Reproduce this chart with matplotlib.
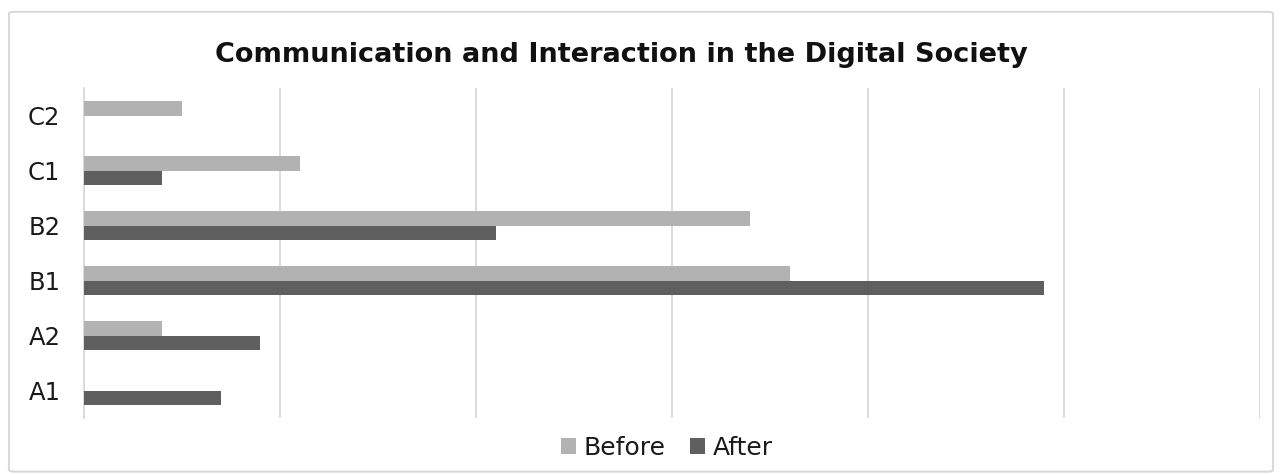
import matplotlib
matplotlib.use("Agg")
import matplotlib.pyplot as plt
import numpy as np
from matplotlib.patches import FancyBboxPatch

# Data (A1 at bottom, C2 at top)
levels = ["A1", "A2", "B1", "B2", "C1", "C2"]
before = [0, 4, 36, 34, 11, 5]
after = [7, 9, 49, 21, 4, 0]
series_names = ["Before", "After"]
x_max = 60
x_step = 10

color_before = "#b2b2b2"
color_after = "#5f5f5f"
grid_color = "#d9d9d9"

plt.rcParams['font.family'] = ['DejaVu Sans']

fig = plt.figure(figsize=(12.82, 4.74), dpi=100)
ax = fig.add_axes([0.0655, 0.1181, 0.9174, 0.6962])

y = np.arange(len(levels))
bar_h = 0.263
ax.barh(y + bar_h / 2, before, height=bar_h, color=color_before, label=series_names[0], zorder=3)
ax.barh(y - bar_h / 2, after, height=bar_h, color=color_after, label=series_names[1], zorder=3)

ax.set_xlim(0, x_max)
ax.set_ylim(-0.5, len(levels) - 0.5)
ax.set_xticks(np.arange(0, x_max + 1, x_step))
ax.set_xticklabels([])
ax.set_yticks(y)
ax.set_yticklabels(levels, fontsize=17.5, color="#1a1a1a")
ax.tick_params(axis="both", length=0)
ax.tick_params(axis="y", pad=17)
ax.grid(axis="x", color=grid_color, linewidth=1.3, zorder=0)
for side in ["top", "right", "bottom"]:
    ax.spines[side].set_visible(False)
ax.spines["left"].set_color(grid_color)
ax.spines["left"].set_linewidth(1.3)

fig.text(0.485, 0.885, "Communication and Interaction in the Digital Society",
         ha="center", va="center", fontsize=19.5, fontweight="bold", color="#111111")

handles, labels = ax.get_legend_handles_labels()
fig.legend(handles, labels, loc="center", bbox_to_anchor=(0.52, 0.055), ncol=2,
           frameon=False, fontsize=18, handlelength=0.6, handleheight=0.6,
           handletextpad=0.3, columnspacing=1.0, labelcolor="#1a1a1a")

# light outer frame like the source chart
frame = FancyBboxPatch((0.007, 0.005), 0.986, 0.97, boxstyle="round,pad=0,rounding_size=0.004",
                       transform=fig.transFigure, fill=False, edgecolor=grid_color, linewidth=1.5)
fig.patches.append(frame)

fig.savefig("out.png", dpi=100)
